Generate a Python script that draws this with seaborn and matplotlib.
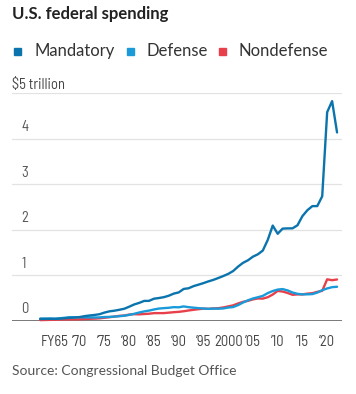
import numpy as np
import pandas as pd
import matplotlib
matplotlib.use("Agg")
import matplotlib.pyplot as plt
import seaborn as sns
from matplotlib.patches import Rectangle

years = list(range(1962, 2023))
mandatory = [0.045, 0.045, 0.048, 0.046, 0.052, 0.061, 0.070, 0.077, 0.087, 0.107,
             0.121, 0.133, 0.149, 0.185, 0.212, 0.226, 0.246, 0.269, 0.314, 0.363,
             0.397, 0.440, 0.442, 0.489, 0.504, 0.523, 0.555, 0.601, 0.627, 0.703,
             0.718, 0.765, 0.797, 0.831, 0.869, 0.902, 0.943, 0.986, 1.033, 1.096,
             1.193, 1.276, 1.332, 1.411, 1.463, 1.546, 1.780, 2.093, 1.913, 2.026,
             2.031, 2.032, 2.099, 2.300, 2.429, 2.519, 2.520, 2.735, 4.579, 4.822, 4.135]
defense = [0.052, 0.053, 0.054, 0.051, 0.059, 0.072, 0.082, 0.082, 0.082, 0.079,
           0.079, 0.077, 0.079, 0.087, 0.090, 0.097, 0.104, 0.116, 0.134, 0.158,
           0.186, 0.210, 0.228, 0.253, 0.273, 0.282, 0.290, 0.304, 0.300, 0.320,
           0.303, 0.292, 0.282, 0.274, 0.266, 0.272, 0.270, 0.275, 0.295, 0.306,
           0.349, 0.405, 0.454, 0.494, 0.521, 0.551, 0.612, 0.657, 0.689, 0.700,
           0.671, 0.625, 0.596, 0.584, 0.585, 0.590, 0.623, 0.676, 0.714, 0.742, 0.751]
nondefense = [0.020, 0.022, 0.025, 0.027, 0.031, 0.033, 0.035, 0.035, 0.038, 0.043,
              0.048, 0.052, 0.058, 0.071, 0.083, 0.097, 0.113, 0.120, 0.141, 0.150,
              0.146, 0.153, 0.160, 0.172, 0.173, 0.173, 0.183, 0.193, 0.201, 0.214,
              0.231, 0.246, 0.259, 0.271, 0.267, 0.276, 0.281, 0.297, 0.320, 0.343,
              0.385, 0.420, 0.442, 0.474, 0.494, 0.491, 0.522, 0.580, 0.660, 0.646,
              0.615, 0.575, 0.583, 0.583, 0.600, 0.610, 0.639, 0.661, 0.914, 0.895, 0.910]

colors = {"Mandatory": "#0b74ad", "Defense": "#1a9ad8", "Nondefense": "#e8404b"}

xtick_years = [1965, 1970, 1975, 1980, 1985, 1990, 1995, 2000, 2005, 2010, 2015, 2020]
xtick_labels = ["FY65", "\u201970", "\u201975", "\u201980", "\u201985", "\u201990",
                "\u201995", "2000", "\u201905", "\u201910", "\u201915", "\u201920"]
ytick_vals = [0, 1, 2, 3, 4]
ytick_labels = ["0", "1", "2", "3", "4"]

df = pd.concat([
    pd.DataFrame({"year": years, "value": nondefense, "series": "Nondefense"}),
    pd.DataFrame({"year": years, "value": defense, "series": "Defense"}),
    pd.DataFrame({"year": years, "value": mandatory, "series": "Mandatory"}),
])

sns.set_style("white")
plt.rcParams["font.family"] = ["Lato", "DejaVu Sans"]
COND = ["Barlow Semi Condensed", "DejaVu Sans"]

W, H = 356, 394
fig = plt.figure(figsize=(W / 100, H / 100), dpi=100)
ax = fig.add_axes([12 / W, 1 - 321 / H, 330 / W, 228 / H])

sns.lineplot(data=df, x="year", y="value", hue="series", palette=colors,
             hue_order=["Nondefense", "Defense", "Mandatory"],
             linewidth=1.7, legend=False, ax=ax, clip_on=False)

ax.set_xlim(1956.3, 2023.0)
ax.set_ylim(0, 5)
for s in ax.spines.values():
    s.set_visible(False)

for v in [1, 2, 3, 4, 5]:
    ax.axhline(v, color="#e2e2e2", lw=0.9, zorder=0)
ax.axhline(0, color="#555555", lw=1.1, zorder=1)

for v, lab in zip(ytick_vals, ytick_labels):
    ax.text(1958.2, v + 0.1, lab, ha="left", va="bottom", fontsize=10.5,
            color="#555555", family=COND)

ax.set_xticks(xtick_years)
ax.set_xticklabels(xtick_labels, family=COND)
ax.set_xticks(years, minor=True)
ax.tick_params(axis="x", which="major", length=5, width=0.9, color="#555555",
               labelsize=10.5, labelcolor="#444444", pad=5)
ax.tick_params(axis="x", which="minor", length=2.5, width=0.8, color="#555555")
ax.set_yticks([])
ax.set_xlabel("")
ax.set_ylabel("")

fig.text(12 / W, 1 - 14 / H, "U.S. federal spending", fontsize=12, fontweight="bold",
         color="#222222", ha="left", va="center")

legend_items = [("Mandatory", 14, 34), ("Defense", 127, 146), ("Nondefense", 219, 238)]
for name, sx, tx in legend_items:
    fig.patches.append(Rectangle((sx / W, 1 - 55 / H), 7 / W, 7 / H,
                                 transform=fig.transFigure, color=colors[name]))
    fig.text(tx / W, 1 - 51 / H, name, fontsize=12, color="#333333",
             ha="left", va="center")

fig.text(12 / W, 1 - 85 / H, "$5 trillion", fontsize=10.5, color="#444444",
         ha="left", va="center", family=COND)
fig.text(12 / W, 1 - 371 / H, "Source: Congressional Budget Office", fontsize=10,
         color="#555555", ha="left", va="center")

fig.savefig("out.png", dpi=100)
